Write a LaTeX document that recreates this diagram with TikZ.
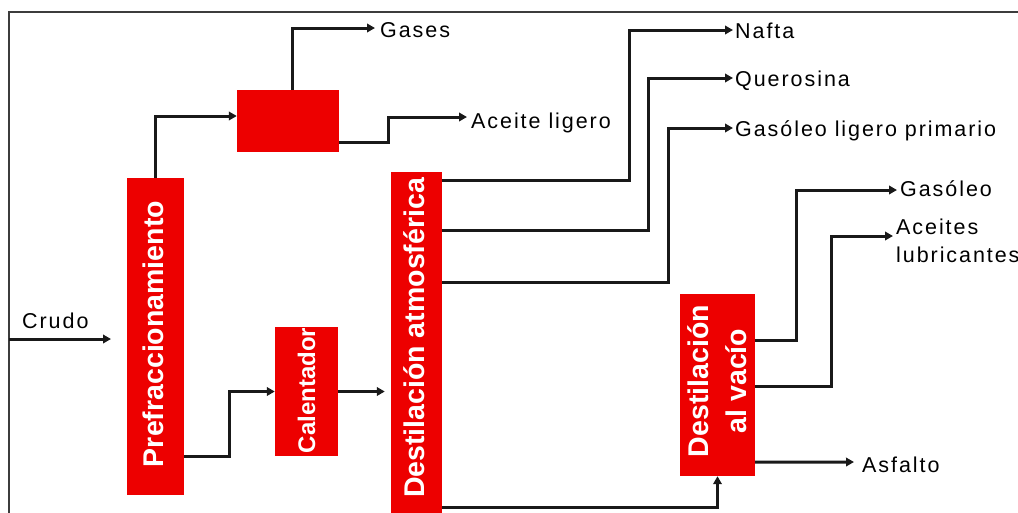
\documentclass[tikz,border=0pt]{standalone}
\usepackage{fontspec}
\setmainfont{Liberation Sans}
\newfontfamily\lblfont[LetterSpace=9]{Liberation Sans}
\usetikzlibrary{arrows.meta,calc}
\definecolor{boxred}{RGB}{237,0,0}
\definecolor{framegray}{RGB}{60,60,60}
\tikzset{
  unitbox/.style={fill=boxred, draw=none, inner sep=0pt},
  boxtext/.style={inner sep=0pt, text=white, rotate=90, font=\bfseries\fontsize{28.5}{38}\selectfont, align=center},
  lbl/.style={inner sep=0pt, anchor=base west, font=\lblfont\fontsize{21.5}{28}\selectfont},
  flow/.style={line width=3pt, draw=black!90, -{Triangle[length=8pt,width=8.5pt]}},
  framestyle/.style={line width=1.5pt, draw=framegray}
}
\begin{document}
\begin{tikzpicture}[x=1pt,y=-1pt]
\useasboundingbox (0,0) rectangle (1018,512);
\clip (0,0) rectangle (1018,512);
\fill[white] (0,0) rectangle (1018,512);
\draw[framestyle] (1020,12) -- (9,12) -- (9,514);

% process boxes
\node[unitbox, minimum width=57pt, minimum height=317pt] (pref) at (155.5,336.5) {};
\node[boxtext] (preft) at (153,334) {Prefraccionamiento};
\node[unitbox, minimum width=102pt, minimum height=62pt] (top) at (288,121) {};
\node[unitbox, minimum width=63pt, minimum height=129pt] (cal) at (306.5,391.5) {};
\node[boxtext, font=\bfseries\fontsize{24}{28}\selectfont] (calt) at (306.5,390.5) {Calentador};
\node[unitbox, minimum width=51pt, minimum height=348pt] (atm) at (416.5,346) {};
\node[boxtext] (atmt) at (414.5,338) {Destilación atmosférica};
\node[unitbox, minimum width=75pt, minimum height=182pt] (vac) at (717.5,385) {};
\node[boxtext] (vact) at (717.5,381) {Destilación\\al vacío};

% labels
\node[lbl] (crudo) at (22,328) {Crudo};
\node[lbl] (gases) at (380,37) {Gases};
\node[lbl] (aceite) at (471,128) {Aceite ligero};
\node[lbl] (nafta) at (735,38) {Nafta};
\node[lbl] (quer) at (735,86) {Querosina};
\node[lbl] (glp) at (735,136) {Gasóleo ligero primario};
\node[lbl] (gasoleo) at (900,196) {Gasóleo};
\node[lbl, anchor=north west, align=left] (lub) at (896,219) {Aceites\\lubricantes};
\node[lbl] (asfalto) at (862,472) {Asfalto};

% connectors
\coordinate (crudoin) at (9,339);
\coordinate (crudoend) at (111,339);
\draw[flow] (crudoin) -- (crudoend);
\draw[flow] (pref.north) |- ($(top.west)+(0,-5)$);
\draw[flow] ($(top.north)+(4,0)$) |- ($(gases.base west)+(-5,-9)$);
\draw[flow] ($(top.east)+(0,21)$) -- ++(49,0) |- ($(aceite.base west)+(-4,-11)$);
\draw[flow] ($(pref.south east)+(0,-39)$) -- ++(45,0) |- (cal.west);
\draw[flow] (cal.east) -- ($(atm.west |- cal.east)+(-6,0)$);
\draw[flow] ($(atm.north east)+(0,9)$) -- ++(187,0) |- ($(nafta.base west)+(-2,-8)$);
\draw[flow] ($(atm.north east)+(0,59)$) -- ++(206,0) |- ($(quer.base west)+(-2,-8)$);
\draw[flow] ($(atm.north east)+(0,111)$) -- ++(226,0) |- ($(glp.base west)+(-2,-8)$);
\draw[flow] ($(atm.south east)+(0,-13)$) -| (vac.south);
\draw[flow] ($(vac.north east)+(0,47)$) -- ++(41,0) |- ($(gasoleo.base west)+(-3,-6)$);
\draw[flow] ($(vac.north east)+(0,93)$) -- ++(76,0) |- ($(lub.north west)+(-3,17)$);
\draw[flow] ($(vac.south east)+(0,-14)$) -- ($(asfalto.base west)+(-8,-10)$);
\end{tikzpicture}
\end{document}
